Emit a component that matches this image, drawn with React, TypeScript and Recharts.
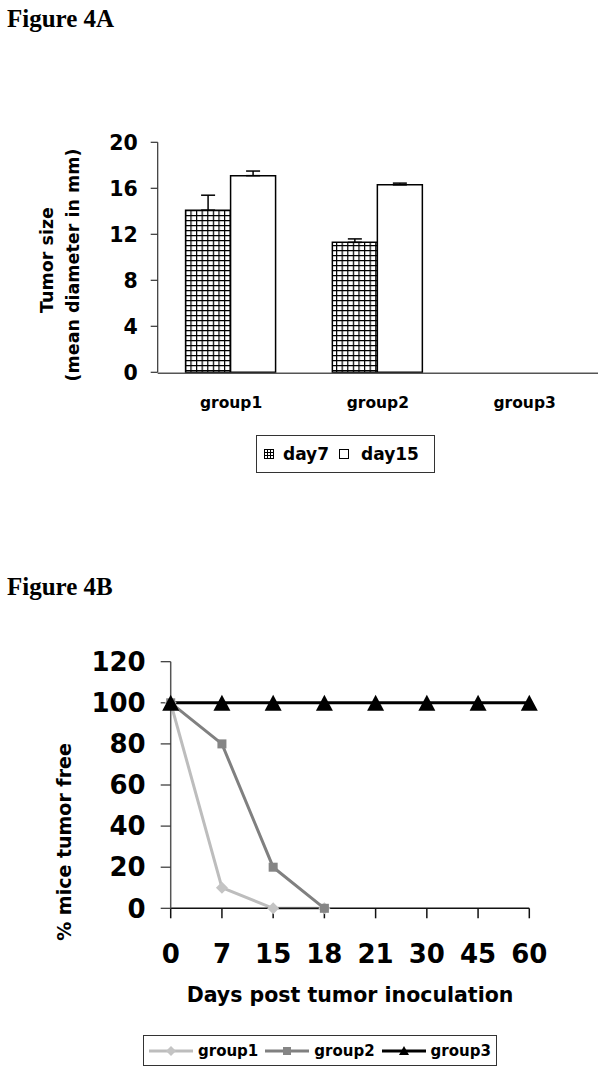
import React from 'react';
import { BarChart, Bar, XAxis, YAxis, ErrorBar, Legend, LineChart, Line } from 'recharts';

// Figure 4A - tumor size per group
const groups = ['group1', 'group2', 'group3'];
const day7 = [14.1, 11.3, 0];
const day15 = [17.1, 16.3, 0];
const day7Err = [1.3, 0.3, 0];
const day15Err = [0.4, 0.15, 0];
const sizeTicks = [0, 4, 8, 12, 16, 20];
const groupEdges = [0, 1, 2, 3];

// Figure 4B - % mice tumor free
const days = ['0', '7', '15', '18', '21', '30', '45', '60'];
const group1 = [100, 10, 0, 0, null, null, null, null];
const group2 = [100, 80, 20, 0, null, null, null, null];
const group3 = [100, 100, 100, 100, 100, 100, 100, 100];
const pctTicks = [0, 20, 40, 60, 80, 100, 120];

const sans = '"DejaVu Sans", sans-serif';
const serif = '"Liberation Serif", "Times New Roman", serif';

const barData = groups.map((g, i) => ({
  group: g,
  day7: day7[i],
  day15: day15[i],
  err7: [0, day7Err[i]],
  err15: [0, day15Err[i]],
}));

const lineData = days.map((d, i) => ({
  day: d,
  group1: group1[i],
  group2: group2[i],
  group3: group3[i],
}));

const C1 = '#bdbdbd';
const C2 = '#808080';
const C3 = '#000000';

const Diamond = (props: any) => {
  const { cx, cy, index } = props;
  if (cy == null || cx == null) return <g key={index} />;
  return (
    <polygon key={index} points={`${cx},${cy - 6} ${cx + 6},${cy} ${cx},${cy + 6} ${cx - 6},${cy}`} fill="#c4c4c4" />
  );
};
const Square = (props: any) => {
  const { cx, cy, index } = props;
  if (cy == null || cx == null) return <g key={index} />;
  return <rect key={index} x={cx - 4.5} y={cy - 4.5} width={9} height={9} fill="#858585" />;
};
const Triangle = (props: any) => {
  const { cx, cy, index } = props;
  if (cy == null || cx == null) return <g key={index} />;
  return <polygon key={index} points={`${cx},${cy - 8} ${cx + 8.5},${cy + 8} ${cx - 8.5},${cy + 8}`} fill="#000" />;
};

const LegendA = () => (
  <div
    style={{
      boxSizing: 'border-box',
      width: 179,
      height: 38,
      border: '1.5px solid #333',
      background: '#fff',
      display: 'flex',
      alignItems: 'center',
      fontFamily: sans,
      fontWeight: 'bold',
      fontSize: 17,
      color: '#000',
      paddingLeft: 7,
    }}
  >
    <svg width={10} height={10} style={{ marginRight: 9 }}>
      <rect x={0.5} y={0.5} width={9} height={9} fill="#fff" stroke="#000" />
      <path d="M3.5 0 V10 M6.5 0 V10 M0 3.5 H10 M0 6.5 H10" stroke="#000" strokeWidth={1} />
    </svg>
    <span>day7</span>
    <svg width={10} height={10} style={{ marginLeft: 10, marginRight: 12 }}>
      <rect x={0.5} y={0.5} width={9} height={9} fill="#fff" stroke="#000" />
    </svg>
    <span>day15</span>
  </div>
);

const legendItems = [
  { name: 'group1', color: C1, mark: 'diamond' },
  { name: 'group2', color: C2, mark: 'square' },
  { name: 'group3', color: C3, mark: 'triangle' },
];

const LegendB = () => (
  <div
    style={{
      boxSizing: 'border-box',
      width: 354,
      height: 31,
      border: '1.5px solid #333',
      background: '#fff',
      display: 'flex',
      alignItems: 'center',
      fontFamily: sans,
      fontWeight: 'bold',
      fontSize: 15,
      color: '#000',
      paddingLeft: 5,
    }}
  >
    {legendItems.map((it, i) => (
      <span key={it.name} style={{ display: 'flex', alignItems: 'center', marginLeft: i === 0 ? 0 : 7 }}>
        <svg width={44} height={12} style={{ marginRight: 5 }}>
          <line x1={0} y1={6} x2={44} y2={6} stroke={it.color} strokeWidth={3} />
          {it.mark === 'diamond' && <polygon points="22,1 27,6 22,11 17,6" fill="#c4c4c4" />}
          {it.mark === 'square' && <rect x={18} y={2} width={8} height={8} fill="#858585" />}
          {it.mark === 'triangle' && <polygon points="22,1 27,10 17,10" fill="#000" />}
        </svg>
        <span>{it.name}</span>
      </span>
    ))}
  </div>
);

const title = (text: string, top: number) => (
  <div
    style={{
      position: 'absolute',
      left: 7,
      top,
      fontFamily: serif,
      fontWeight: 'bold',
      fontSize: 25,
      lineHeight: '25px',
      color: '#000',
    }}
  >
    {text}
  </div>
);

export default function App() {
  return (
    <div style={{ position: 'absolute', left: 0, top: 0, width: 607, height: 1075, background: '#fff' }}>
      {title('Figure 4A', 6)}
      <div style={{ position: 'absolute', left: 0, top: 0 }}>
        <BarChart
          width={607}
          height={480}
          data={barData}
          margin={{ top: 142.3, right: 9, left: 0, bottom: 105.7 }}
          barCategoryGap="19%"
          barGap={0}
        >
          <defs>
            <pattern id="grid7" width={5.6} height={5} patternUnits="userSpaceOnUse">
              <rect width={5.6} height={5} fill="#fff" />
              <path d="M0 0.6 H5.6 M0.6 0 V5" stroke="#000" strokeWidth={1.2} />
            </pattern>
          </defs>
          <XAxis
            xAxisId="edges"
            type="number"
            domain={[0, 3]}
            ticks={groupEdges}
            height={1}
            tick={false}
            tickSize={5}
            axisLine={{ stroke: '#555', strokeWidth: 1.5 }}
            tickLine={{ stroke: '#333', strokeWidth: 1 }}
          />
          <XAxis
            dataKey="group"
            height={1}
            axisLine={false}
            tickLine={false}
            tickSize={0}
            tickMargin={25}
            interval={0}
            tick={{ fill: '#000', fontFamily: sans, fontWeight: 'bold', fontSize: 15.5 }}
          />
          <YAxis
            width={157.7}
            domain={[0, 20]}
            ticks={sizeTicks}
            interval={0}
            tickSize={7}
            tickMargin={13}
            axisLine={{ stroke: '#333', strokeWidth: 1.2 }}
            tickLine={{ stroke: '#333', strokeWidth: 1.2 }}
            tick={{ fill: '#000', fontFamily: sans, fontWeight: 'bold', fontSize: 20.5 }}
            label={() => (
              <g fontFamily={sans} fontWeight="bold" fontSize={17.5} fill="#000">
                <text x={53} y={260} textAnchor="middle" transform="rotate(-90, 53, 260)">
                  Tumor size
                </text>
                <text x={79} y={265} textAnchor="middle" transform="rotate(-90, 79, 265)">
                  (mean diameter in mm)
                </text>
              </g>
            )}
          />
          <Bar dataKey="day7" fill="url(#grid7)" stroke="#000" strokeWidth={1.5} isAnimationActive={false}>
            <ErrorBar dataKey="err7" width={7} stroke="#000" strokeWidth={1.5} direction="y" />
          </Bar>
          <Bar dataKey="day15" fill="#fff" stroke="#000" strokeWidth={1.5} isAnimationActive={false}>
            <ErrorBar dataKey="err15" width={7} stroke="#000" strokeWidth={1.5} direction="y" />
          </Bar>
          <Legend
            layout="horizontal"
            verticalAlign="middle"
            align="center"
            content={() => <LegendA />}
            wrapperStyle={{ left: 256, top: 435, width: 179, height: 38 }}
          />
        </BarChart>
      </div>

      {title('Figure 4B', 574)}
      <div style={{ position: 'absolute', left: 0, top: 600 }}>
        <LineChart
          width={607}
          height={475}
          data={lineData}
          margin={{ top: 61.7, right: 77.7, left: 0, bottom: 165.7 }}
        >
          <XAxis
            dataKey="day"
            height={1}
            interval={0}
            tickSize={10}
            tickMargin={26}
            axisLine={{ stroke: '#111', strokeWidth: 1.5 }}
            tickLine={{ stroke: '#111', strokeWidth: 1.5 }}
            tick={{ fill: '#000', fontFamily: sans, fontWeight: 'bold', fontSize: 26 }}
            label={{
              value: 'Days post tumor inoculation',
              position: 'bottom',
              offset: 78.4,
              fill: '#000',
              fontFamily: sans,
              fontWeight: 'bold',
              fontSize: 20.5,
            }}
          />
          <YAxis
            width={170.7}
            domain={[0, 120]}
            ticks={pctTicks}
            interval={0}
            tickSize={10}
            tickMargin={15}
            axisLine={{ stroke: '#555', strokeWidth: 1.5 }}
            tickLine={{ stroke: '#333', strokeWidth: 1.2 }}
            tick={{ fill: '#000', fontFamily: sans, fontWeight: 'bold', fontSize: 26 }}
            label={() => (
              <text
                x={71}
                y={242}
                textAnchor="middle"
                transform="rotate(-90, 71, 242)"
                fontFamily={sans}
                fontWeight="bold"
                fontSize={19}
                fill="#000"
              >
                % mice tumor free
              </text>
            )}
          />
          <Line dataKey="group1" stroke={C1} strokeWidth={3} dot={Diamond} isAnimationActive={false} />
          <Line dataKey="group2" stroke={C2} strokeWidth={3} dot={Square} isAnimationActive={false} />
          <Line dataKey="group3" stroke={C3} strokeWidth={3} dot={Triangle} isAnimationActive={false} />
          <Legend
            layout="horizontal"
            verticalAlign="middle"
            align="center"
            content={() => <LegendB />}
            wrapperStyle={{ left: 143, top: 435, width: 354, height: 31 }}
          />
        </LineChart>
      </div>
    </div>
  );
}
